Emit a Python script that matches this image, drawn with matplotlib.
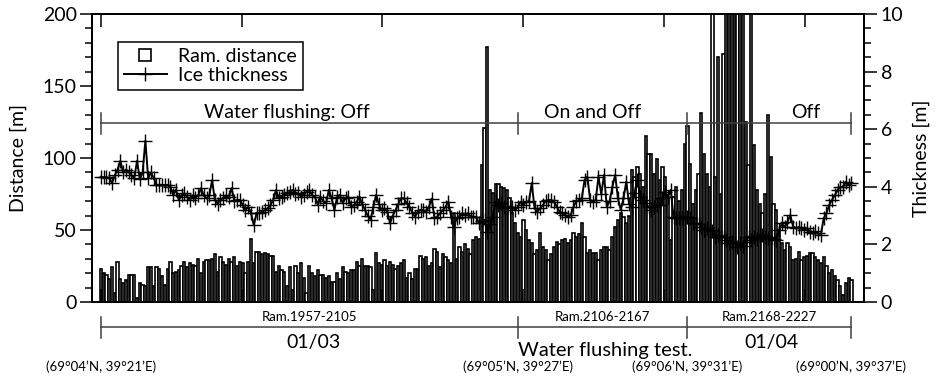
import numpy as np
import matplotlib.pyplot as plt
from matplotlib.lines import Line2D
from matplotlib.ticker import MultipleLocator

plt.rcParams['font.family'] = ['Lato', 'DejaVu Sans']

# ram numbers 1957-2227, one value per ram
ram_first = 1957

# ramming distance [m]
distance = [
    23, 20, 19, 16, 24, 6, 28, 16, 13, 15,
    19, 19, 19, 3, 13, 12, 11, 24, 24, 11,
    24, 23, 18, 12, 23, 28, 20, 21, 22, 25,
    28, 24, 27, 26, 25, 30, 20, 28, 29, 29,
    30, 33, 21, 31, 28, 26, 30, 28, 31, 25,
    28, 27, 20, 28, 44, 27, 35, 35, 33, 34,
    33, 32, 32, 21, 25, 22, 21, 11, 24, 8,
    25, 20, 27, 17, 6, 25, 20, 18, 22, 19,
    19, 17, 18, 14, 14, 20, 16, 24, 21, 20,
    22, 22, 28, 25, 30, 25, 25, 24, 8, 34,
    27, 26, 29, 25, 28, 26, 23, 25, 27, 29,
    17, 20, 16, 23, 23, 32, 30, 31, 25, 27,
    37, 35, 24, 33, 31, 29, 27, 62, 30, 38,
    35, 40, 37, 33, 43, 45, 44, 95, 121, 177,
    78, 76, 82, 82, 80, 79, 78, 72, 62, 55,
    48, 45, 57, 50, 43, 41, 33, 36, 48, 38,
    36, 29, 33, 38, 42, 40, 43, 44, 41, 43,
    48, 45, 47, 55, 45, 34, 36, 34, 34, 29,
    36, 38, 38, 36, 45, 52, 57, 62, 59, 55,
    60, 92, 87, 94, 89, 80, 115, 103, 103, 89,
    99, 85, 94, 87, 73, 43, 73, 80, 70, 78,
    110, 122, 96, 68, 78, 89, 131, 103, 89, 80,
    215, 87, 170, 75, 172, 230, 210, 250, 225, 240,
    215, 210, 125, 95, 230, 109, 78, 68, 62, 75,
    130, 101, 68, 64, 50, 41, 36, 41, 38, 29,
    30, 35, 29, 31, 32, 34, 34, 31, 29, 27,
    31, 25, 20, 22, 18, 15, 11, 5, 13, 17, 15,
]

# ice thickness [m]
thickness = [
    4.35, 4.33, 4.33, 4.3, 4.13, 4.4, 4.6, 4.9, 4.5, 4.6,
    4.52, 4.4, 4.3, 4.9, 4.26, 4.5, 5.6, 4.3, 4.5, 4.3,
    4.07, 4.07, 4.07, 4.05, 4.07, 4.0, 3.71, 3.9, 3.54, 3.7,
    3.77, 3.65, 3.54, 3.7, 3.62, 3.7, 3.95, 3.7, 3.6, 3.7,
    4.23, 3.54, 3.42, 3.55, 3.62, 3.7, 3.66, 3.95, 3.5, 3.55,
    3.54, 3.37, 3.19, 3.3, 3.08, 2.67, 3.08, 3.08, 3.14, 3.19,
    3.25, 3.37, 3.54, 3.89, 3.6, 3.66, 3.72, 3.77, 3.83, 3.89,
    3.75, 3.77, 3.66, 3.72, 3.83, 3.89, 3.7, 3.66, 3.37, 3.66,
    3.5, 3.43, 3.89, 3.6, 3.19, 3.66, 3.72, 3.43, 3.6, 3.66,
    3.31, 3.37, 3.48, 3.66, 3.4, 3.2, 3.0, 2.85, 3.3, 3.72,
    3.4, 3.19, 3.25, 3.14, 2.73, 3.0, 3.19, 3.4, 3.6, 3.6,
    3.43, 3.31, 3.1, 2.96, 3.14, 3.2, 3.19, 3.14, 3.3, 3.59,
    2.91, 2.96, 3.08, 3.19, 3.3, 3.48, 2.96, 2.62, 2.91, 2.96,
    3.08, 3.02, 3.08, 2.96, 2.96, 2.96, 2.73, 2.8, 2.85, 2.44,
    2.7, 2.96, 3.48, 3.37, 3.45, 3.3, 3.25, 3.31, 3.31, 3.19,
    3.3, 3.48, 3.37, 3.48, 3.5, 4.13, 3.25, 3.14, 3.25, 3.37,
    3.5, 3.54, 3.54, 3.48, 3.31, 3.14, 3.08, 3.02, 2.96, 3.02,
    3.3, 3.5, 3.54, 3.6, 4.24, 4.35, 3.54, 3.48, 3.54, 4.35,
    3.75, 4.41, 3.31, 3.5, 4.0, 4.41, 3.6, 3.2, 3.6, 4.18,
    3.4, 3.31, 3.8, 4.24, 3.66, 3.55, 3.43, 3.3, 3.2, 3.31,
    3.37, 3.37, 3.6, 3.83, 3.66, 3.89, 2.96, 2.93, 2.9, 2.93,
    2.96, 2.96, 2.9, 2.73, 2.73, 2.7, 2.62, 2.5, 2.56, 2.5,
    2.45, 2.27, 2.33, 2.27, 2.27, 2.15, 2.04, 2.1, 2.04, 1.92,
    2.04, 1.95, 2.1, 2.27, 2.15, 2.27, 2.2, 2.33, 2.33, 2.27,
    2.21, 2.27, 2.2, 2.15, 2.5, 2.73, 2.6, 2.79, 3.02, 2.62,
    2.56, 2.6, 2.56, 2.5, 2.56, 2.44, 2.38, 2.45, 2.38, 2.33,
    2.9, 3.08, 3.37, 3.54, 3.7, 3.89, 4.0, 4.0, 4.18, 4.06, 4.12,
]

# segment boundaries (ram number) and annotation texts
bounds = [1957, 2107, 2168, 2227]
flushing_labels = ['Water flushing: Off', 'On and Off', 'Off']
flushing_x = [2024, 2134, 2210.6]
ram_labels = ['Ram.1957-2105', 'Ram.2106-2167', 'Ram.2168-2227']
day_labels = ['01/03', '01/04']
day_x = [2033.6, 2198.4]
positions = ['(69°04’N, 39°21’E)', '(69°05’N, 39°27’E)',
             '(69°06’N, 39°31’E)', '(69°00’N, 39°37’E)']

rams = np.arange(ram_first, ram_first + len(distance))

fig = plt.figure(figsize=(9.35, 3.83), dpi=100)
ax = fig.add_axes([0.0984, 0.2115, 0.8256, 0.7519])

ax.bar(rams, distance, width=0.8, color='white', edgecolor='black', linewidth=1.2)
ax.set_xlim(1953.8, 2231.5)
ax.set_ylim(0, 200)

ax2 = ax.twinx()
ax2.plot(rams[:len(thickness)], thickness, color='black', lw=1.4,
         marker='+', ms=10, mew=1.0)
ax2.set_ylim(0, 10)

# axes styling
for a in (ax, ax2):
    for s in a.spines.values():
        s.set_linewidth(1.4)
ax.set_xticks(np.linspace(1957, 2210.2, 6))
ax.tick_params(axis='x', which='both', direction='in', top=True, bottom=True,
               labelbottom=False, length=9.5, width=1.1)
ax.set_yticks([0, 50, 100, 150, 200])
ax.yaxis.set_minor_locator(MultipleLocator(10))
ax.tick_params(axis='y', which='major', direction='out', length=9, width=1.1,
               labelsize=14, pad=2)
ax.tick_params(axis='y', which='minor', direction='out', length=5, width=1.1)
ax2.set_yticks([0, 2, 4, 6, 8, 10])
ax2.yaxis.set_minor_locator(MultipleLocator(0.5))
ax2.tick_params(axis='y', which='major', direction='out', length=9, width=1.1,
                labelsize=14, pad=3)
ax2.tick_params(axis='y', which='minor', direction='out', length=5, width=1.1)
ax.set_ylabel('Distance [m]', fontsize=14, labelpad=11)
ax2.set_ylabel('Thickness [m]', fontsize=14, labelpad=7)

# water flushing brackets (inside the plot)
bc = '#404040'
ax.plot([bounds[0], bounds[-1]], [124.3, 124.3], color=bc, lw=1.1)
for b in bounds:
    ax.plot([b, b], [117, 131.6], color=bc, lw=1.1)
for lab, x in zip(flushing_labels, flushing_x):
    ax.text(x, 127.8, lab, fontsize=14, ha='center', va='baseline')

# ram range brackets below the plot
tr = ax.get_xaxis_transform()
ax.plot([bounds[0], bounds[-1]], [-0.087, -0.087], color=bc, lw=1.1,
        transform=tr, clip_on=False)
for b in bounds:
    ax.plot([b, b], [-0.052, -0.125], color=bc, lw=1.1, transform=tr, clip_on=False)
for i, lab in enumerate(ram_labels):
    xm = (bounds[i] + bounds[i + 1]) / 2
    ax.text(xm, -0.052, lab, fontsize=9.5, ha='center', va='center', transform=tr)
for lab, x in zip(day_labels, day_x):
    ax.text(x, -0.142, lab, fontsize=14, ha='center', va='center', transform=tr)
ax.text(2138.3, -0.167, 'Water flushing test.', fontsize=14.5, ha='center',
        va='center', transform=tr)
for lab, b in zip(positions, bounds):
    ax.text(b, -0.226, lab, fontsize=9.5, ha='center', va='center', transform=tr)

handles = [
    Line2D([], [], marker='s', ls='none', mfc='white', mec='black', ms=9, mew=1.2),
    Line2D([], [], color='black', lw=1.4, marker='+', ms=10, mew=1.0),
]
leg = ax2.legend(handles, ['Ram. distance', 'Ice thickness'], loc='upper left',
                 bbox_to_anchor=(0.0337, 0.903), fontsize=14, frameon=True,
                 fancybox=False, edgecolor='black', framealpha=1,
                 handlelength=2.2, labelspacing=0.12, borderpad=0.3,
                 borderaxespad=0, handletextpad=0.6)
leg.get_frame().set_linewidth(1.1)

fig.savefig('out.png', dpi=100)
